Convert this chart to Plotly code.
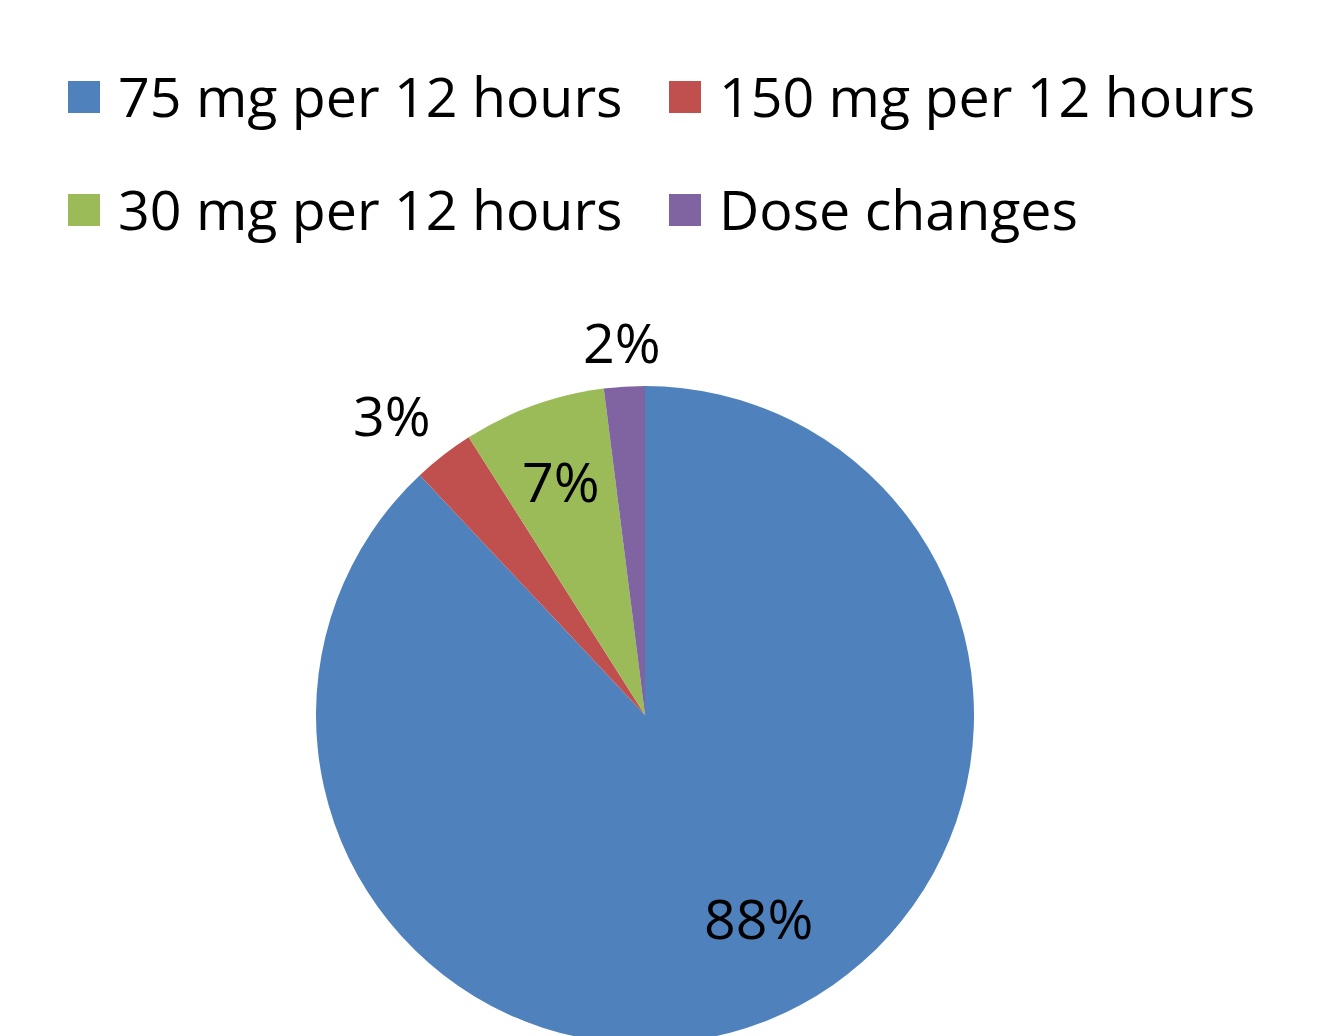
import math
import plotly.graph_objects as go

# Data
labels = ["75 mg per 12 hours", "150 mg per 12 hours", "30 mg per 12 hours", "Dose changes"]
values = [88, 3, 7, 2]
colors = ["#4F81BD", "#C0504D", "#9BBB59", "#8064A2"]

# Label placement (fraction of radius, angular nudge in degrees) per slice
label_radius = [0.71, 1.19, 0.75, 1.13]
label_nudge = [-7.5, -2.5, 0.0, 0.0]

W, H = 1323, 1036
FONT = "Open Sans"
FS = 55.5

# pie geometry in figure pixels (page body has an 8px offset)
CX, CY, R = 637, 707, 329

fig = go.Figure()
fig.add_trace(go.Pie(
    labels=labels,
    values=values,
    sort=False,
    direction="clockwise",
    rotation=0,
    marker=dict(colors=colors, line=dict(width=0)),
    textinfo="none",
    showlegend=False,
    hoverinfo="label+percent",
    domain=dict(x=[(CX - R) / W, (CX + R) / W], y=[1 - (CY + R) / H, 1 - (CY - R) / H]),
))

annotations = []
shapes = []

# Percentage labels positioned from the slice angles
total = sum(values)
cum = 0
for v, k, nd in zip(values, label_radius, label_nudge):
    mid = (cum + v / 2) / total
    cum += v
    th = math.radians(mid * 360 + nd)
    px = CX + k * R * math.sin(th)
    py = CY - k * R * math.cos(th)
    annotations.append(dict(
        text=f"{round(100 * v / total)}%", xref="paper", yref="paper",
        x=px / W, y=1 - (py - 2) / H, xanchor="center", yanchor="middle",
        showarrow=False, font=dict(family=FONT, size=FS, color="black"),
    ))

# Manual legend (2 rows x 2 columns) built from the label list
legend_cols_px = [60, 661]
legend_rows_px = [89, 202]
sq = 32
for i, (lab, col) in enumerate(zip(labels, colors)):
    r = i // 2
    c = i % 2
    x0 = legend_cols_px[c]
    yc = legend_rows_px[r]
    shapes.append(dict(
        type="rect", xref="paper", yref="paper",
        x0=x0 / W, x1=(x0 + sq) / W,
        y0=1 - (yc + sq / 2) / H, y1=1 - (yc - sq / 2) / H,
        fillcolor=col, line=dict(width=0),
    ))
    annotations.append(dict(
        text=lab, xref="paper", yref="paper",
        x=(x0 + 48) / W, y=1 - (yc - 2) / H,
        xanchor="left", yanchor="middle", showarrow=False,
        font=dict(family=FONT, size=FS, color="black"),
    ))

fig.update_layout(
    width=W, height=H,
    margin=dict(l=0, r=0, t=0, b=0),
    paper_bgcolor="white",
    plot_bgcolor="white",
    shapes=shapes,
    annotations=annotations,
)

fig.write_html("out.html")
